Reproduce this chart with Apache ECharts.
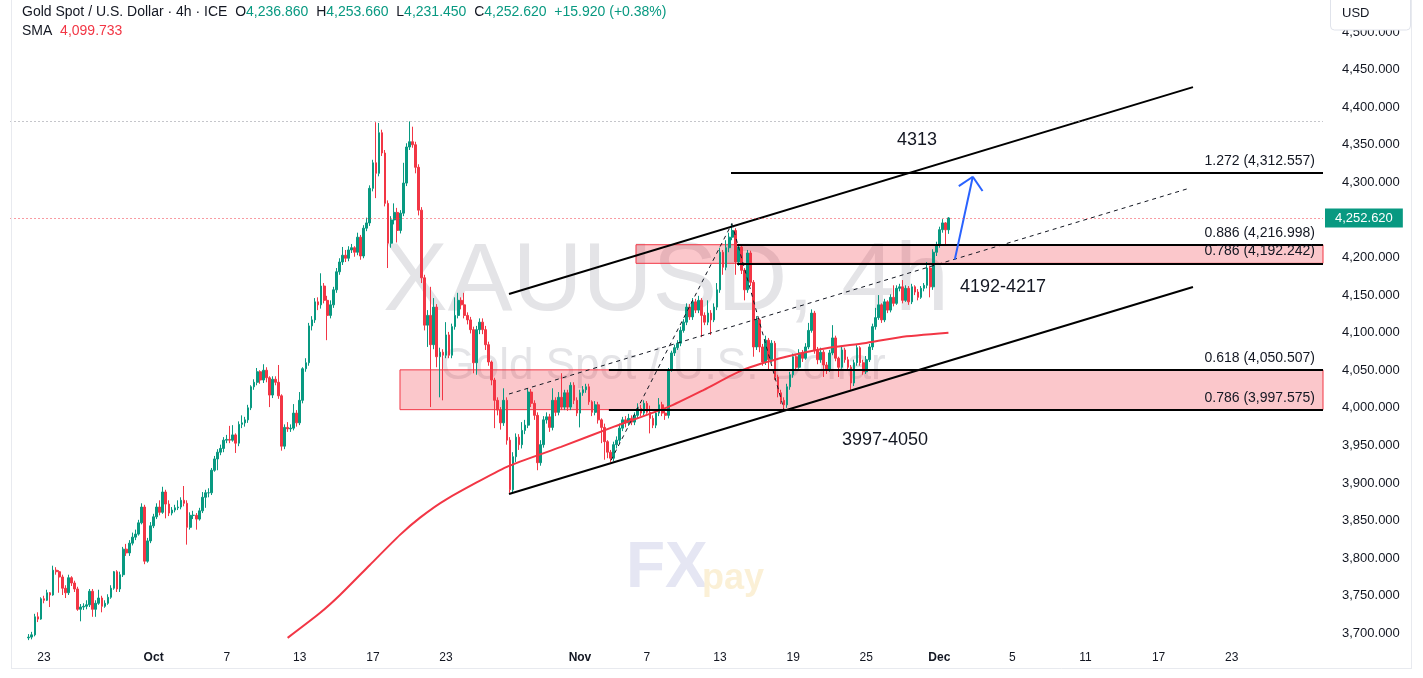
<!DOCTYPE html>
<html><head><meta charset="utf-8">
<script src="https://cdn.jsdelivr.net/npm/echarts@6/dist/echarts.min.js"></script>
<style>html,body{margin:0;padding:0;background:#fff}#c{width:1423px;height:678px}</style>
</head><body><div id="c"></div><script>
const FONT = '"Liberation Sans", Arial, sans-serif';

// ---- candle data (4h bars, bar index = firstBar + i, open = previous close) ----
const firstBar = 5;
const firstOpen = 3694;
const closes = [
3695,3698,3722,3719,3746,3744,3754,3751,3784,3782,
3775,3760,3754,3774,3767,3759,3732,3735,3736,3738,
3756,3732,3740,3747,3736,3740,3748,3760,3782,3759,
3778,3812,3807,3820,3828,3832,3847,3868,3796,3823,
3843,3855,3868,3861,3888,3872,3860,3864,3867,3868,
3877,3873,3841,3857,3857,3852,3863,3881,3887,3887,
3917,3932,3941,3946,3957,3958,3957,3964,3953,3978,
3980,3984,4000,4028,4034,4048,4037,4050,4040,4017,
4038,4034,4016,3949,3974,3972,3973,3993,3980,4010,
4052,4060,4109,4117,4141,4137,4162,4143,4123,4137,
4157,4181,4194,4203,4199,4210,4213,4207,4227,4202,
4239,4246,4292,4326,4312,4366,4339,4272,4219,4250,
4260,4236,4259,4299,4347,4354,4350,4320,4263,4173,
4110,4123,4084,4134,4068,4074,4070,4097,4070,4108,
4123,4143,4137,4123,4117,4104,4060,4104,4114,4104,
4084,4061,4037,4010,3997,3980,4010,3957,3891,3935,
3961,3951,3970,3977,4021,4006,3990,3927,3951,3984,
3988,3974,4010,3994,4014,4001,4020,4001,4030,4010,
3993,4020,4024,4028,4008,3994,4004,3984,3974,3955,
3941,3933,3951,3957,3973,3984,3980,3986,3981,3990,
3999,3993,4006,3994,3986,3977,3993,4004,3993,3990,
4050,4073,4080,4086,4103,4114,4134,4121,4141,4130,
4143,4123,4114,4126,4117,4134,4157,4207,4187,4213,
4227,4236,4194,4214,4183,4157,4206,4167,4081,4117,
4081,4061,4090,4064,4086,4041,4020,4010,4004,4028,
4044,4068,4054,4073,4066,4081,4103,4126,4077,4064,
4074,4057,4050,4073,4093,4066,4054,4077,4064,4054,
4033,4060,4080,4060,4048,4064,4081,4108,4120,4137,
4117,4141,4130,4147,4139,4159,4161,4143,4159,4141,
4161,4154,4147,4159,4163,4186,4161,4207,4217,4237,
4246,4236.86,4252.62
];
const highs = [
3699,3702,3726,3728,3748,3750,3758,3755,3790,3788,
3784,3778,3764,3778,3776,3770,3762,3739,3740,3744,
3759,3759,3744,3758,3750,3744,3752,3764,3783,3784,
3782,3815,3819,3824,3834,3838,3851,3873,3871,3827,
3848,3859,3873,3877,3895,3891,3877,3868,3871,3877,
3881,3896,3877,3861,3863,3860,3867,3888,3891,3893,
3920,3936,3945,3951,3961,3964,3976,3977,3966,3982,
3990,3988,4004,4030,4038,4053,4050,4058,4054,4042,
4042,4042,4057,4018,3978,3981,3978,4005,3997,4021,
4054,4066,4113,4122,4146,4147,4179,4166,4149,4143,
4161,4186,4199,4214,4210,4215,4218,4215,4233,4230,
4243,4253,4296,4330,4380,4379,4370,4343,4276,4255,
4272,4266,4263,4326,4352,4381,4374,4354,4324,4267,
4177,4130,4161,4146,4138,4080,4078,4114,4101,4112,
4147,4153,4147,4153,4127,4121,4108,4109,4119,4119,
4109,4088,4063,4040,4014,4001,4026,4014,3961,3941,
3966,3965,3981,3984,4026,4025,4010,3994,3957,3989,
3994,3992,4026,4014,4021,4046,4024,4024,4034,4034,
4014,4024,4029,4032,4032,4010,4009,4008,3986,3979,
3957,3944,3955,3962,3979,3988,3989,3992,3990,3994,
4006,4004,4010,4009,4003,3990,3997,4013,4008,3999,
4053,4076,4084,4090,4108,4118,4139,4138,4146,4145,
4149,4146,4127,4143,4130,4139,4166,4213,4210,4223,
4233,4245,4239,4218,4217,4186,4210,4209,4170,4122,
4119,4085,4096,4093,4090,4089,4044,4024,4014,4032,
4048,4072,4070,4078,4077,4086,4113,4131,4129,4081,
4080,4077,4061,4077,4110,4096,4068,4081,4080,4068,
4057,4064,4084,4082,4064,4069,4085,4112,4133,4150,
4139,4145,4143,4151,4163,4163,4165,4170,4163,4162,
4165,4163,4158,4162,4166,4194,4189,4211,4221,4241,
4251,4247,4253.66
];
const lows = [
3691,3692,3696,3715,3718,3740,3743,3735,3750,3778,
3754,3751,3747,3751,3763,3755,3730,3716,3731,3732,
3735,3722,3722,3738,3728,3734,3738,3746,3758,3755,
3755,3775,3803,3803,3817,3824,3830,3845,3792,3794,
3820,3840,3852,3857,3859,3853,3856,3857,3861,3864,
3865,3869,3818,3838,3852,3838,3850,3860,3867,3881,
3884,3915,3917,3937,3941,3953,3953,3955,3940,3949,
3973,3975,3980,3997,4024,4030,4032,4033,4034,4001,
4013,4030,4012,3943,3945,3968,3968,3970,3975,3977,
4006,4048,4056,4103,4113,4130,4132,4139,4090,4119,
4133,4153,4177,4190,4194,4195,4206,4201,4203,4197,
4199,4235,4242,4288,4279,4308,4335,4268,4186,4213,
4244,4220,4232,4255,4295,4343,4346,4312,4256,4166,
4103,4081,4001,4078,4054,4014,4010,4066,4066,4066,
4104,4119,4131,4119,4111,4099,4046,4044,4098,4098,
4077,4056,4030,3973,3990,3971,3976,3951,3887,3888,
3928,3944,3946,3965,3973,4001,3984,3917,3923,3947,
3979,3968,3970,3989,3990,3997,3997,3996,3997,4005,
3989,3974,4016,4020,4004,3989,3990,3979,3953,3931,
3933,3928,3929,3946,3953,3969,3974,3976,3977,3977,
3986,3989,3990,3992,3966,3973,3973,3989,3989,3984,
3986,4048,4069,4077,4082,4100,4110,4117,4117,4126,
4126,4094,4110,4110,4097,4114,4130,4153,4177,4183,
4207,4223,4177,4189,4178,4143,4153,4162,4068,4077,
4074,4056,4057,4050,4060,4037,4014,4005,3997,4000,
4024,4040,4049,4052,4061,4064,4078,4100,4072,4058,
4060,4041,4045,4048,4070,4062,4041,4052,4060,4050,
4024,4029,4056,4056,4044,4045,4061,4077,4104,4117,
4113,4114,4126,4127,4135,4137,4155,4139,4141,4137,
4138,4150,4143,4145,4155,4159,4147,4157,4202,4213,
4233,4217,4231.45
];

// ---- SMA line (read points) ----
const smaBars   = [90, 100.6, 107.2, 117, 126.9, 133.5, 142, 162, 179.8, 197.2, 214.9, 226.7, 239.5, 253.7, 267.8, 279.3, 291.1, 307];
const smaValues = [3694, 3727, 3751, 3791, 3831, 3854, 3878, 3921.5, 3948, 3975, 4001, 4024, 4050.5, 4068, 4080, 4086, 4094, 4099.733];

// ---- time axis labels ----
const dateLabels    = ['23','Oct','7','13','17','23','Nov','7','13','19','25','Dec','5','11','17','23'];
const dateLabelBars = [10, 46, 70, 94, 118, 142, 186, 208, 232, 256, 280, 304, 328, 352, 376, 400];
const monthLabels   = ['Oct','Nov','Dec'];

// ---- drawings (bar index, price) ----
const upperChannel = [[162.7, 4151.4], [387.3, 4426.7]];
const lowerChannel = [[162.7, 3885.4], [387.3, 4160.7]];
const midDashed    = [[162.7, 4018.4], [386.3, 4292.4]];
const fibZigzag    = [[196.2, 3930.2], [235.9, 4245.2], [253.0, 3997.66]];
const arrowShaft   = [[309.1, 4197.5], [315.0, 4307.4]];
const arrowWingL   = [310.4, 4295.0];
const arrowWingR   = [318.2, 4288.4];
const fibLabels    = ['1.272 (4,312.557)','0.886 (4,216.998)','0.786 (4,192.242)','0.618 (4,050.507)','0.786 (3,997.575)'];
const fibValues    = [4312.557, 4216.998, 4192.242, 4050.507, 3997.575];
const fibStartBars = [235.6, 237.6, 237.6, 195.5, 195.5];
const zoneTops     = [4216.998, 4050.507];
const zoneBottoms  = [4192.242, 3997.575];
const zoneStarts   = [204.4, 126.9];
const noteTexts    = ['4313', '4192-4217', '3997-4050'];
const noteBars     = [296.7, 324.9, 286.2];
const notePrices   = [4356.2, 4160.7, 3957.2];
const lastPrice    = 4252.62;
const rangeHigh    = 4381;
const headerValues = ['4,236.860','4,253.660','4,231.450','4,252.620','+15.920 (+0.38%)'];
const smaLabel     = '4,099.733';

const X_END = 430;
const candles = closes.map((c, i) => [firstBar + i, i === 0 ? firstOpen : closes[i - 1], c, lows[i], highs[i]]);
const smaData = smaBars.map((b, i) => [b, smaValues[i]]);
const fmt3 = v => v.toLocaleString('en-US', {minimumFractionDigits: 3, maximumFractionDigits: 3});

const black = {color: '#000000', width: 2, type: 'solid'};
const dash = {color: '#131722', width: 1, type: [4, 4]};
const blue = {color: '#2962ff', width: 2, type: 'solid'};
function seg(a, b, style, label) {
  return [{coord: a, lineStyle: style, label: label || {show: false}}, {coord: b}];
}
const lines = [];
lines.push(seg(upperChannel[0], upperChannel[1], black));
lines.push(seg(lowerChannel[0], lowerChannel[1], black));
lines.push(seg(midDashed[0], midDashed[1], dash));
lines.push(seg(fibZigzag[0], fibZigzag[1], dash));
lines.push(seg(fibZigzag[1], fibZigzag[2], dash));
fibValues.forEach((v, i) => {
  lines.push(seg([fibStartBars[i], v], [X_END, v], black, {
    show: true, position: 'insideEndTop', formatter: fibLabels[i], color: '#131722',
    fontSize: 14, fontFamily: FONT, distance: [8, 5]
  }));
});
lines.push(seg(arrowShaft[0], arrowShaft[1], blue));
lines.push(seg(arrowWingL, arrowShaft[1], blue));
lines.push(seg(arrowWingR, arrowShaft[1], blue));
lines.push(seg([-1, rangeHigh], [X_END, rangeHigh], {color: '#8a8d96', width: 1, type: [1, 3]}));
lines.push(seg([-1, lastPrice], [X_END, lastPrice], {color: '#f23645', width: 1, type: [1, 3]}, {
  show: true, position: 'end', formatter: fmt3(lastPrice), color: '#ffffff', backgroundColor: '#089981',
  fontSize: 13, fontFamily: FONT, padding: [3, 10, 3, 10], distance: 2
}));

const areas = zoneTops.map((t, i) => [{coord: [zoneStarts[i], t]}, {coord: [X_END, zoneBottoms[i]]}]);
const notes = noteTexts.map((t, i) => ({name: t, coord: [noteBars[i], notePrices[i]]}));

const chart = echarts.init(document.getElementById('c'), null, {renderer: 'canvas'});
chart.setOption({
  animation: false,
  backgroundColor: '#ffffff',
  grid: {left: 10.5, right: 100, top: 0, height: 645, containLabel: false},
  xAxis: {
    type: 'value', min: -1, max: X_END, interval: 1,
    axisLine: {show: false}, axisTick: {show: false}, splitLine: {show: false},
    axisLabel: {
      margin: 7, color: '#131722', fontSize: 12, fontFamily: FONT,
      formatter: v => {
        const k = dateLabelBars.indexOf(v);
        if (k < 0) return '';
        const t = dateLabels[k];
        return monthLabels.includes(t) ? '{b|' + t + '}' : t;
      },
      rich: {b: {fontWeight: 'bold', fontSize: 12, color: '#131722', fontFamily: FONT}}
    }
  },
  yAxis: {
    type: 'value', position: 'right', min: 3684.5, max: 4542.55, splitNumber: 17,
    minInterval: 50, maxInterval: 50,
    axisLine: {show: false}, axisTick: {show: false}, splitLine: {show: false},
    axisLabel: {
      margin: 19, color: '#131722', fontSize: 13, fontFamily: FONT,
      formatter: v => (Math.abs(v % 50) < 1e-6 ? fmt3(v) : '')
    }
  },
  series: [
    {
      type: 'candlestick', data: candles, encode: {x: 0, y: [1, 2, 3, 4]}, barWidth: 2.2, z: 2,
      itemStyle: {color: '#089981', color0: '#f23645', borderColor: '#089981', borderColor0: '#f23645', borderWidth: 1}
    },
    {
      type: 'line', data: smaData, smooth: 0.2, symbol: 'none', z: 3,
      lineStyle: {color: '#f23645', width: 2}
    },
    {
      type: 'line', data: [], z: 4,
      markArea: {
        silent: true, z: 1,
        itemStyle: {color: 'rgba(242,54,69,0.28)', borderColor: '#f23645', borderWidth: 1},
        data: areas
      },
      markLine: {silent: true, symbol: ['none', 'none'], label: {show: false}, data: lines},
      markPoint: {
        silent: true, symbol: 'rect', symbolSize: 1, itemStyle: {color: 'rgba(0,0,0,0)'},
        label: {show: true, position: 'inside', formatter: '{b}', fontSize: 18, color: '#131722', fontFamily: FONT},
        data: notes
      }
    }
  ],
  graphic: [
    {type: 'text', x: 666, y: 283, z: -10, silent: true,
     style: {text: 'XAUUSD, 4h', fontSize: 97, fontFamily: FONT, fill: '#e4e4e7', align: 'center', verticalAlign: 'middle'}},
    {type: 'text', x: 663, y: 367, z: -10, silent: true,
     style: {text: 'Gold Spot / U.S. Dollar', fontSize: 44, fontFamily: FONT, fill: '#e4e4e7', align: 'center', verticalAlign: 'middle'}},
    {type: 'text', x: 626, y: 569, z: -10, silent: true,
     style: {text: 'FX', fontSize: 64, fontWeight: 'bold', fontFamily: FONT, fill: '#e5e6f3', align: 'left', verticalAlign: 'middle'}},
    {type: 'text', x: 702, y: 579, z: -10, silent: true,
     style: {text: 'pay', fontSize: 36, fontWeight: 'bold', fontFamily: FONT, fill: '#fbf0d6', align: 'left', verticalAlign: 'middle'}},
    {type: 'text', x: 22, y: 12, z: 100, silent: true,
     style: {
       text: '{d|Gold Spot / U.S. Dollar · 4h · ICE}  {d|O}{g|' + headerValues[0] + '}  {d|H}{g|' + headerValues[1] +
             '}  {d|L}{g|' + headerValues[2] + '}  {d|C}{g|' + headerValues[3] + '}  {g|' + headerValues[4] + '}',
       fontSize: 14, fontFamily: FONT, fill: '#131722', verticalAlign: 'middle',
       rich: {d: {fill: '#131722', fontSize: 14, fontFamily: FONT}, g: {fill: '#089981', fontSize: 14, fontFamily: FONT}}
     }},
    {type: 'text', x: 22, y: 31, z: 100, silent: true,
     style: {
       text: '{d|SMA}  {r|' + smaLabel + '}', fontSize: 14, fontFamily: FONT, fill: '#131722', verticalAlign: 'middle',
       rich: {d: {fill: '#131722', fontSize: 14, fontFamily: FONT}, r: {fill: '#f23645', fontSize: 14, fontFamily: FONT}}
     }},
    {type: 'rect', z: 100, silent: true, shape: {x: 1330.5, y: -4, width: 80, height: 34, r: 4},
     style: {fill: '#ffffff', stroke: '#e0e3eb', lineWidth: 1}},
    {type: 'text', x: 1342, y: 13, z: 101, silent: true,
     style: {text: 'USD', fontSize: 13, fontFamily: FONT, fill: '#131722', verticalAlign: 'middle'}},
    {type: 'line', z: 90, silent: true, shape: {x1: 11.5, y1: 0, x2: 11.5, y2: 668}, style: {stroke: '#e8eaef', lineWidth: 1}},
    {type: 'line', z: 90, silent: true, shape: {x1: 11, y1: 668.5, x2: 1412, y2: 668.5}, style: {stroke: '#e8eaef', lineWidth: 1}},
    {type: 'line', z: 90, silent: true, shape: {x1: 1411.5, y1: 0, x2: 1411.5, y2: 668}, style: {stroke: '#e8eaef', lineWidth: 1}}
  ]
});
</script></body></html>
